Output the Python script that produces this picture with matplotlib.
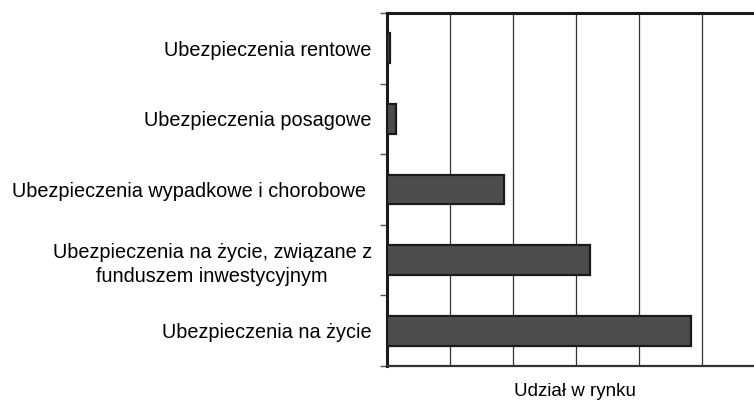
import matplotlib.pyplot as plt
import numpy as np

plt.rcParams['font.family'] = ['Liberation Sans', 'DejaVu Sans']

categories = ['Ubezpieczenia rentowe',
              'Ubezpieczenia posagowe',
              'Ubezpieczenia wypadkowe i chorobowe ',
              'Ubezpieczenia na życie, związane z\nfunduszem inwestycyjnym',
              'Ubezpieczenia na życie']
share = [0.5, 1.5, 18.6, 32.3, 48.2]

fig = plt.figure(figsize=(7.54, 4.01), dpi=100)
ax = fig.add_axes([387 / 754, 1 - 366 / 401, 378 / 754, 353 / 401])

y = np.arange(len(categories))
ax.barh(y, share, height=0.42, color='#4d4d4d', edgecolor='#1a1a1a', linewidth=1.6, zorder=3)

ax.set_xlim(0, 60)
ax.set_ylim(len(categories) - 0.5, -0.5)
ax.set_xticks(np.arange(10, 60, 10))
ax.tick_params(axis='x', length=0, labelbottom=False)
ax.xaxis.grid(True, color='#333333', linewidth=0.9, zorder=0)

ax.set_yticks(y)
ax.set_yticklabels(categories, fontsize=14.3, multialignment='center', linespacing=1.35)
ax.tick_params(axis='y', length=0, pad=11)
ax.set_yticks(np.arange(-0.5, len(categories)), minor=True)
ax.tick_params(axis='y', which='minor', length=5, width=1, color='#555555')

for side in ['left', 'top']:
    ax.spines[side].set_linewidth(2.2)
    ax.spines[side].set_color('#1a1a1a')
ax.spines['bottom'].set_linewidth(1.6)
ax.spines['bottom'].set_color('#333333')
ax.spines['right'].set_visible(False)

fig.text(575 / 754, 1 - 396 / 401, 'Udział w rynku', ha='center', va='baseline', fontsize=13.5)

fig.savefig('out.png', dpi=100)
